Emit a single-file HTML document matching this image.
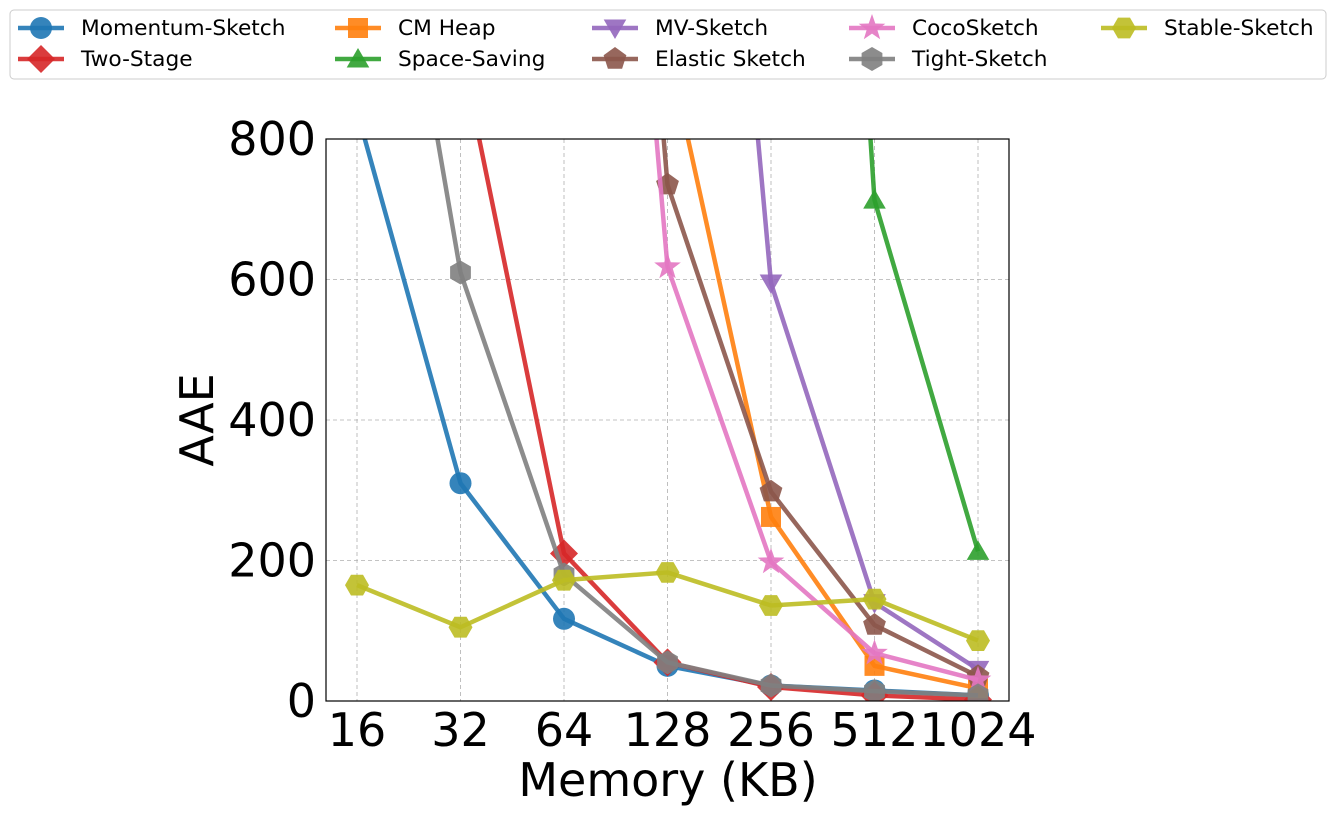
<!DOCTYPE html>
<html><head><meta charset="utf-8"><style>
body{margin:0;background:#fff;}
svg{font-family:"DejaVu Sans","Liberation Sans",sans-serif;}
</style></head><body>
<svg id="chart" width="1335" height="816">
<defs><clipPath id="clip"><rect x="326" y="139" width="683" height="562"/></clipPath></defs>
<g id="grid"></g>
<g id="series" clip-path="url(#clip)"></g>
<rect x="326" y="139" width="683" height="562" fill="none" stroke="#000" stroke-width="1.2"/>
<g id="ticks"></g>
<text x="213" y="420" font-size="46" text-anchor="middle" transform="rotate(-90 213 420)">AAE</text>
<text x="668" y="796" font-size="46" text-anchor="middle">Memory (KB)</text>
<rect x="10" y="10" width="1316" height="69" rx="4" fill="#fff" stroke="#ccc"/>
<g id="legend"></g>
</svg>
<script>
const categories=["16","32","64","128","256","512","1024"];
const yTicks=[0,200,400,600,800];
const seriesNames=["Momentum-Sketch","Two-Stage","CM Heap","Space-Saving","MV-Sketch","Elastic Sketch","CocoSketch","Tight-Sketch","Stable-Sketch"];
const momentum=[840,310,117,50,22,15,8];
const twoStage=[2000,930,210,55,20,8,2];
const cmHeap=[5000,4000,2500,933,262,50,18];
const spaceSaving=[9000,7000,5000,4000,2960,713,213];
const mvSketch=[8000,6000,4000,2227,595,140,45];
const elastic=[5000,4000,2500,735,298,108,35];
const coco=[6000,4500,2330,618,198,68,30];
const tight=[1465,610,180,55,22,14,8];
const stable=[165,105,172,183,136,145,86];
const seriesData=[momentum,twoStage,cmHeap,spaceSaving,mvSketch,elastic,coco,tight,stable];
const colors=["#1f77b4","#d62728","#ff7f0e","#2ca02c","#9467bd","#8c564b","#e377c2","#7f7f7f","#bcbd22"];
const markers=["circle","diamond","square","triangle","tridown","pentagon","star","hexagon","hexagon2"];
const NS="http://www.w3.org/2000/svg";
const X0=357,DX=103.5,Y0=701,YS=562/800;
const xs=i=>X0+i*DX, ys=v=>Y0-v*YS;
function mk(tag,attrs,parent){const e=document.createElementNS(NS,tag);for(const k in attrs)e.setAttribute(k,attrs[k]);parent.appendChild(e);return e;}
function poly(n,r,rot,cx,cy){let p=[];for(let i=0;i<n;i++){const a=rot+i*2*Math.PI/n;p.push((cx+r*Math.cos(a)).toFixed(1)+","+(cy+r*Math.sin(a)).toFixed(1));}return p.join(" ");}
function star(cx,cy,r){let p=[];for(let i=0;i<10;i++){const rr=i%2?r*0.4:r;const a=-Math.PI/2+i*Math.PI/5;p.push((cx+rr*Math.cos(a)).toFixed(1)+","+(cy+rr*Math.sin(a)).toFixed(1));}return p.join(" ");}
function marker(type,cx,cy,color,parent,s){
 s=s||1;let e;
 if(type==="circle")e=mk("circle",{cx:cx,cy:cy,r:11*s},parent);
 else if(type==="square")e=mk("rect",{x:cx-10*s,y:cy-10*s,width:20*s,height:20*s},parent);
 else if(type==="diamond")e=mk("polygon",{points:poly(4,14*s,-Math.PI/2,cx,cy)},parent);
 else if(type==="triangle")e=mk("polygon",{points:poly(3,13*s,-Math.PI/2,cx,cy+2*s)},parent);
 else if(type==="tridown")e=mk("polygon",{points:poly(3,13*s,Math.PI/2,cx,cy-2*s)},parent);
 else if(type==="pentagon")e=mk("polygon",{points:poly(5,12*s,-Math.PI/2,cx,cy)},parent);
 else if(type==="star")e=mk("polygon",{points:star(cx,cy,14*s)},parent);
 else if(type==="hexagon")e=mk("polygon",{points:poly(6,12*s,-Math.PI/2,cx,cy)},parent);
 else e=mk("polygon",{points:poly(6,12*s,0,cx,cy)},parent);
 e.setAttribute("fill",color);e.setAttribute("fill-opacity","0.9");
 return e;
}
const grid=document.getElementById("grid"),ticks=document.getElementById("ticks");
categories.forEach((c,i)=>{
 const l=mk("line",{x1:xs(i),x2:xs(i),y1:139,y2:701,stroke:"#b0b0b0","stroke-dasharray":"4,3","stroke-width":0.8},grid);
 
 
 const t=mk("text",{x:xs(i),y:746,"font-size":46,"text-anchor":"middle"},ticks);t.textContent=c;
 
 
});
yTicks.forEach(v=>{
 const l=mk("line",{x1:326,x2:1009,y1:ys(v),y2:ys(v),stroke:"#b0b0b0","stroke-dasharray":"4,3","stroke-width":0.8},grid);
 
 
 const t=mk("text",{x:316,y:ys(v)+16,"font-size":46,"text-anchor":"end"},ticks);t.textContent=v;
 
 
});
const sg=document.getElementById("series");
seriesData.forEach((d,si)=>{
 const g=mk("g",{},sg);
 
 
 const pl=mk("polyline",{points:d.map((v,i)=>xs(i)+","+ys(v)).join(" "),fill:"none",stroke:colors[si],"stroke-width":4.5,"stroke-opacity":0.9,"stroke-linejoin":"round"},g);
 
 
 d.forEach((v,i)=>{const m=marker(markers[si],xs(i),ys(v),colors[si],g);
  
  });
});
const lg=document.getElementById("legend");
const colX=[18,335,592,849,1101],rowY=[28,59];
seriesNames.forEach((n,i)=>{
 const c=Math.floor(i/2),r=i%2,x=colX[c],y=rowY[r];
 const g=mk("g",{},lg);
 
 
 mk("line",{x1:x,x2:x+46,y1:y,y2:y,stroke:colors[i],"stroke-width":4.5,"stroke-opacity":0.9},g);
 marker(markers[i],x+23,y,colors[i],g,1);
 const t=mk("text",{x:x+63,y:y+7,"font-size":21.7},g);t.textContent=n;
});
</script>
</body></html>
